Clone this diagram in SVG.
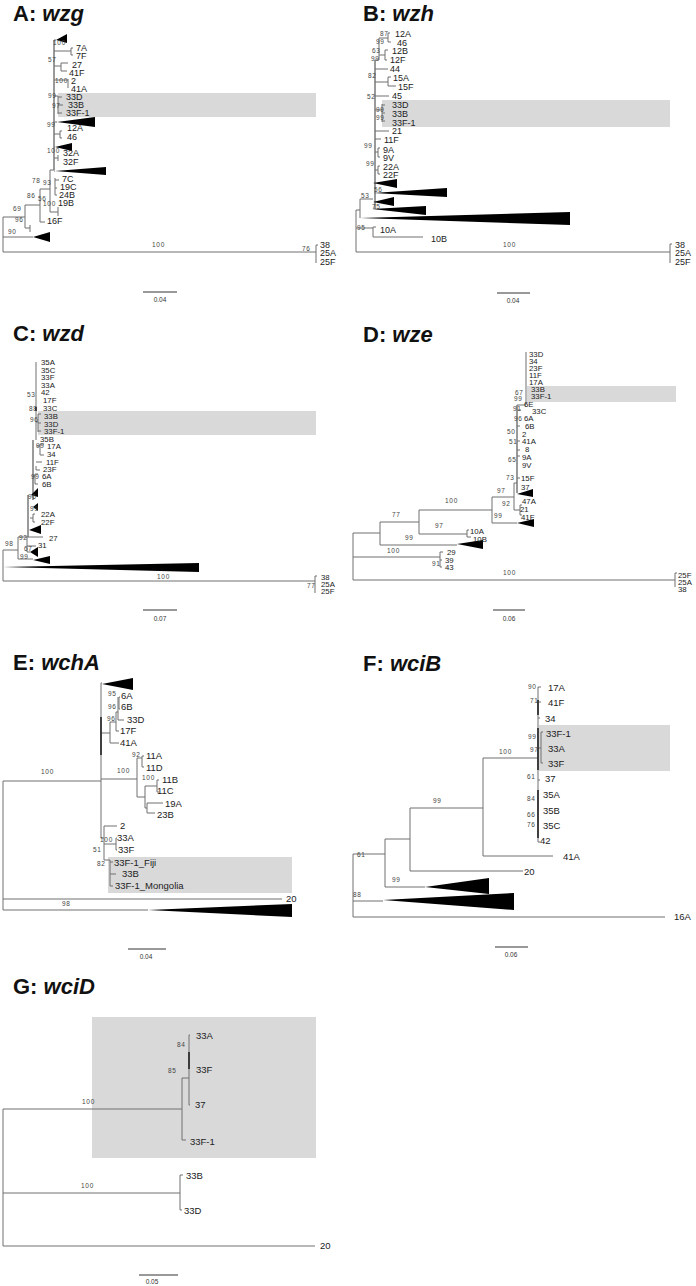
<svg xmlns="http://www.w3.org/2000/svg" width="696" height="1286" viewBox="0 0 696 1286">
<style>
.ln{stroke:#707070;stroke-width:1;fill:none}
.bb{stroke:#9a9a9a;stroke-width:2;fill:none}
.dk{stroke:#222;stroke-width:1.6;fill:none}
.tri{fill:#000}
.hl{fill:#d9d9d9}
.t{font-family:"Liberation Sans",Arial,sans-serif;font-size:9px;fill:#222}
.t4{font-family:"Liberation Sans",Arial,sans-serif;font-size:7.8px;fill:#222}
.t3{font-family:"Liberation Sans",Arial,sans-serif;font-size:9.5px;fill:#222}
.b{font-family:"Liberation Sans",Arial,sans-serif;font-size:6.5px;letter-spacing:0.7px;fill:#444}
.sc{font-family:"Liberation Sans",Arial,sans-serif;font-size:6.5px;fill:#333;text-anchor:middle}
.ti{font-family:"Liberation Sans",Arial,sans-serif;font-size:22px;font-weight:bold;fill:#111}
.ti tspan{font-style:italic}
.sb{stroke:#333;stroke-width:1;fill:none}
</style>
<rect width="696" height="1286" fill="#fff"/>

<!-- ===== Panel A ===== -->
<g id="panelA">
<text class="ti" x="13" y="21">A: <tspan>wzg</tspan></text>
<rect id="A-highlight" class="hl" x="58" y="93" width="258" height="24"/>
<g id="A-connectors">
<path class="bb" d="M54,40V170"/>
<path class="ln" d="M3,217V252M3,217H25M25,205V228M25,228H30M30,225V232M3,237H33M3,252H316M316,245V263M316,245H318M25,205H40M40,189V222M40,222H45M40,189H50M50,170V212M50,212H58M58,207V216M50,170H54M54,40H56M54,51H71M71,48V55M71,48H73M71,55H73M54,66H61M61,63V71M61,63H68M61,71H67M54,80H68M68,79V88M54,96H58M58,96V114M58,97H62M58,105H63M58,113H62M54,122H57M54,134H60M60,131V138M60,131H62M60,138H62M54,147H55M54,158H58M58,155V161M54,171H55M55,178V195M55,180H59M55,188H57M55,195H57"/>
</g>
<g id="A-clades">
<polygon class="tri" points="56,40 67,34 67,43"/>
<polygon class="tri" points="57,122 95,117 95,127"/>
<polygon class="tri" points="55,147 72,143 72,151"/>
<polygon class="tri" points="55,171 106,167 106,175"/>
<polygon class="tri" points="33,237 50,232 50,242"/>
</g>
<g id="A-tips">
<text class="t" x="76" y="51">7A</text><text class="t" x="76" y="59">7F</text>
<text class="t" x="72" y="68">27</text><text class="t" x="69" y="76">41F</text>
<text class="t" x="71" y="84">2</text><text class="t" x="71" y="92">41A</text>
<text class="t" x="66" y="100">33D</text><text class="t" x="68" y="108">33B</text><text class="t" x="66" y="116">33F-1</text>
<text class="t" x="67" y="131">12A</text><text class="t" x="67" y="140">46</text>
<text class="t" x="63" y="156">32A</text><text class="t" x="63" y="165">32F</text>
<text class="t" x="62" y="182">7C</text><text class="t" x="60" y="190">19C</text><text class="t" x="59" y="198">24B</text><text class="t" x="58" y="206">19B</text>
<text class="t" x="47" y="224">16F</text>
<text class="t" x="320" y="248">38</text><text class="t" x="320" y="256">25A</text><text class="t" x="320" y="265">25F</text>
</g>
<g id="A-bootstrap">
<text class="b" x="53" y="45">100</text><text class="b" x="48" y="62">57</text><text class="b" x="55" y="83">100</text>
<text class="b" x="48" y="98">99</text><text class="b" x="52" y="108">97</text><text class="b" x="47" y="127">99</text>
<text class="b" x="47" y="153">100</text><text class="b" x="32" y="183">78</text><text class="b" x="43" y="185">93</text>
<text class="b" x="27" y="198">86</text><text class="b" x="38" y="201">56</text><text class="b" x="43" y="206">100</text>
<text class="b" x="13" y="211">69</text><text class="b" x="15" y="222">96</text><text class="b" x="8" y="234">90</text>
<text class="b" x="152" y="247">100</text><text class="b" x="302" y="251">76</text>
</g>
<g id="A-scale"><path class="sb" d="M143,292H177"/><text class="sc" x="160" y="302">0.04</text></g>
</g>

<!-- ===== Panel B ===== -->
<g id="panelB">
<text class="ti" x="363" y="21">B: <tspan>wzh</tspan></text>
<rect id="B-highlight" class="hl" x="382" y="100" width="288" height="27"/>
<g id="B-connectors">
<path class="bb" d="M375,60V209"/>
<path class="ln" d="M356,210V252M356,210H360M360,199V218M360,199H373M356,228H373M373,227V237M373,227H376M373,237H423M356,252H670M670,244V263M670,244H672M379,38H388M388,33V42M388,33H390M388,42H391M379,38V60M375,60H379M379,55H385M385,50V60M385,50H388M385,60H387M375,69H388M375,82H388M388,77V86M388,77H391M388,86H396M375,96H389M375,110H382M382,104V122M382,105H385M382,113H385M382,121H385M375,131H389M375,139H381M375,152H378M378,148V157M378,148H380M378,157H380M375,170H378M378,166V174M378,166H380M378,174H380"/>
</g>
<g id="B-clades">
<polygon class="tri" points="373,183 397,179 397,188"/>
<polygon class="tri" points="373,193 447,188 447,197"/>
<polygon class="tri" points="373,202 394,197 394,206"/>
<polygon class="tri" points="372,209 426,206 426,215"/>
<polygon class="tri" points="360,218 570,212 570,225"/>
</g>
<g id="B-tips">
<text class="t" x="395" y="37">12A</text><text class="t" x="397" y="46">46</text>
<text class="t" x="392" y="54">12B</text><text class="t" x="390" y="63">12F</text>
<text class="t" x="390" y="72">44</text><text class="t" x="393" y="81">15A</text><text class="t" x="398" y="90">15F</text>
<text class="t" x="392" y="99">45</text>
<text class="t" x="392" y="108">33D</text><text class="t" x="392" y="117">33B</text><text class="t" x="392" y="126">33F-1</text>
<text class="t" x="392" y="134">21</text><text class="t" x="384" y="143">11F</text>
<text class="t" x="383" y="153">9A</text><text class="t" x="383" y="161">9V</text>
<text class="t" x="383" y="170">22A</text><text class="t" x="383" y="178">22F</text>
<text class="t" x="380" y="233">10A</text><text class="t" x="431" y="242">10B</text>
<text class="t" x="675" y="248">38</text><text class="t" x="675" y="256">25A</text><text class="t" x="675" y="265">25F</text>
</g>
<g id="B-bootstrap">
<text class="b" x="380" y="36">87</text><text class="b" x="376" y="44">99</text><text class="b" x="372" y="53">63</text>
<text class="b" x="371" y="61">99</text><text class="b" x="368" y="78">82</text><text class="b" x="367" y="99">52</text>
<text class="b" x="376" y="112">99</text><text class="b" x="376" y="120">99</text><text class="b" x="364" y="148">99</text>
<text class="b" x="366" y="166">99</text><text class="b" x="374" y="192">56</text><text class="b" x="361" y="198">53</text>
<text class="b" x="372" y="209">75</text><text class="b" x="357" y="230">95</text><text class="b" x="503" y="247">100</text>
</g>
<g id="B-scale"><path class="sb" d="M497,293H530"/><text class="sc" x="513" y="303">0.04</text></g>
</g>

<!-- ===== Panel C ===== -->
<g id="panelC">
<text class="ti" x="13" y="341">C: <tspan>wzd</tspan></text>
<rect id="C-highlight" class="hl" x="38" y="411" width="278" height="24"/>
<g id="C-connectors">
<path class="bb" d="M33,440V500M28,495V537"/>
<path class="ln" d="M36,362V440M3,550V581M3,550H18M18,537V559M18,537H43M18,559H33M27,537V552M27,552H30M27,546H36M3,581H315M315,576V593M315,576H317M36,422H38M38,414V432M38,414H41M38,423H41M38,431H41M36,446H40M40,444V455M40,444H44M40,455H44M36,462H42M36,466V470H40M33,476H35M35,474V484M35,474H38M35,484H38M30,518H33M33,514V522M33,514H35M33,522H35"/>
<path class="dk" d="M36,407V411"/>
</g>
<g id="C-clades">
<polygon class="tri" points="31,495 38,488 38,497"/>
<polygon class="tri" points="33,507 38,503 38,511"/>
<polygon class="tri" points="29,530 41,525 41,534"/>
<polygon class="tri" points="30,552 38,547 38,557"/>
<polygon class="tri" points="33,560 50,556 50,564"/>
<polygon class="tri" points="3,567 199,563 199,572"/>
</g>
<g id="C-tips">
<text class="t4" x="41" y="365">35A</text><text class="t4" x="41" y="373">35C</text><text class="t4" x="41" y="380">33F</text>
<text class="t4" x="41" y="388">33A</text><text class="t4" x="41" y="395">42</text><text class="t4" x="43" y="403">17F</text>
<text class="t4" x="43" y="411">33C</text><text class="t4" x="44" y="419">33B</text><text class="t4" x="44" y="427">33D</text>
<text class="t4" x="44" y="434">33F-1</text><text class="t4" x="40" y="442">35B</text><text class="t4" x="47" y="449">17A</text>
<text class="t4" x="47" y="457">34</text><text class="t4" x="46" y="465">11F</text><text class="t4" x="43" y="472">23F</text>
<text class="t4" x="42" y="479">6A</text><text class="t4" x="42" y="487">6B</text>
<text class="t4" x="41" y="517">22A</text><text class="t4" x="41" y="525">22F</text>
<text class="t4" x="49" y="541">27</text><text class="t4" x="38" y="548">31</text>
<text class="t4" x="321" y="580">38</text><text class="t4" x="321" y="587">25A</text><text class="t4" x="321" y="594">25F</text>
</g>
<g id="C-bootstrap">
<text class="b" x="27" y="397">53</text><text class="b" x="29" y="411">88</text><text class="b" x="30" y="422">96</text>
<text class="b" x="36" y="448">99</text><text class="b" x="31" y="479">99</text><text class="b" x="28" y="499">96</text>
<text class="b" x="30" y="511">99</text><text class="b" x="19" y="540">92</text><text class="b" x="5" y="546">98</text>
<text class="b" x="24" y="551">67</text><text class="b" x="20" y="559">99</text>
<text class="b" x="157" y="579">100</text><text class="b" x="307" y="588">77</text>
</g>
<g id="C-scale"><path class="sb" d="M143,610H177"/><text class="sc" x="160" y="621">0.07</text></g>
</g>

<!-- ===== Panel D ===== -->
<g id="panelD">
<text class="ti" x="363" y="342">D: <tspan>wze</tspan></text>
<rect id="D-highlight" class="hl" x="527" y="386" width="149" height="16"/>
<g id="D-connectors">
<path class="bb" d="M517,405V493"/>
<path class="ln" d="M526,352V405M517,405H526M353,533V580M353,533H380M380,522V545M380,522H419M419,510V534M419,510H492M492,497V523M419,534H467M467,530V537M467,530H469M467,537H471M380,545H457M353,557H440M440,552V567M440,552H443M440,560H442M440,567H442M353,580H675M675,573V587M675,573H677M492,497H514M514,483V510M492,523H517M514,510H520M520,505V515M520,505H522M520,515H522M514,483H517M517,410H521M517,426H520M517,441H520M517,450H520M517,456H520M517,478H520"/>
</g>
<g id="D-clades">
<polygon class="tri" points="517,494 533,489 533,497"/>
<polygon class="tri" points="517,523 534,519 534,527"/>
<polygon class="tri" points="457,544 483,540 483,549"/>
</g>
<g id="D-tips">
<text class="t4" x="529" y="357">33D</text><text class="t4" x="529" y="364">34</text><text class="t4" x="529" y="371">23F</text>
<text class="t4" x="529" y="378">11F</text><text class="t4" x="529" y="385">17A</text><text class="t4" x="531" y="392">33B</text>
<text class="t4" x="531" y="399">33F-1</text><text class="t4" x="524" y="407">6E</text><text class="t4" x="532" y="414">33C</text>
<text class="t4" x="524" y="421">6A</text><text class="t4" x="525" y="429">6B</text><text class="t4" x="522" y="437">2</text>
<text class="t4" x="522" y="444">41A</text><text class="t4" x="525" y="452">8</text><text class="t4" x="522" y="460">9A</text>
<text class="t4" x="522" y="468">9V</text><text class="t4" x="521" y="481">15F</text><text class="t4" x="521" y="490">37</text>
<text class="t4" x="522" y="504">47A</text><text class="t4" x="520" y="512">21</text><text class="t4" x="521" y="520">41F</text>
<text class="t4" x="470" y="534">10A</text><text class="t4" x="473" y="542">10B</text>
<text class="t4" x="447" y="555">29</text><text class="t4" x="445" y="563">39</text><text class="t4" x="445" y="570">43</text>
<text class="t4" x="678" y="578">25F</text><text class="t4" x="678" y="585">25A</text><text class="t4" x="678" y="592">38</text>
</g>
<g id="D-bootstrap">
<text class="b" x="515" y="395">67</text><text class="b" x="514" y="401">99</text><text class="b" x="513" y="411">91</text>
<text class="b" x="514" y="421">96</text><text class="b" x="507" y="434">50</text><text class="b" x="509" y="444">51</text>
<text class="b" x="508" y="462">65</text><text class="b" x="506" y="480">73</text><text class="b" x="497" y="493">97</text>
<text class="b" x="502" y="506">92</text><text class="b" x="494" y="518">99</text><text class="b" x="445" y="503">100</text>
<text class="b" x="392" y="517">77</text><text class="b" x="435" y="528">97</text><text class="b" x="405" y="540">99</text>
<text class="b" x="387" y="553">100</text><text class="b" x="432" y="566">91</text><text class="b" x="503" y="575">100</text>
</g>
<g id="D-scale"><path class="sb" d="M493,610H525"/><text class="sc" x="509" y="621">0.06</text></g>
</g>

<!-- ===== Panel E ===== -->
<g id="panelE">
<text class="ti" x="13" y="670">E: <tspan>wchA</tspan></text>
<rect id="E-highlight" class="hl" x="108" y="857" width="184" height="36"/>
<g id="E-connectors">
<path class="ln" d="M3,781V910M3,781H101M101,683V838M101,683H102M101,733H110M110,722V743M110,743H119M110,722H116M116,712V731M116,731H119M116,712H118M118,697V720M118,720H124M119,697V709M119,697H120M119,709H120M101,779H137M137,758V797M137,758H142M142,756V767M142,756H144M142,767H144M137,797H145M145,786V808M145,786H157M157,780V792M157,780H159M157,792H159M145,808H147M147,803V813M147,803H163M147,813H155M101,838H104M104,826V860M104,826H117M104,844H116M116,838V850M116,838H117M116,850H117M104,860H110M110,860V886M110,862H113M110,874H116M110,886H113M3,899H282M3,910H148"/>
<path class="dk" d="M101,717V755"/>
</g>
<g id="E-clades">
<polygon class="tri" points="102,684 133,678 133,690"/>
<polygon class="tri" points="148,910 292,904 292,917"/>
</g>
<g id="E-tips">
<text class="t3" x="121" y="699">6A</text><text class="t3" x="121" y="710">6B</text><text class="t3" x="127" y="723">33D</text>
<text class="t3" x="120" y="734">17F</text><text class="t3" x="120" y="746">41A</text><text class="t3" x="146" y="759">11A</text>
<text class="t3" x="146" y="771">11D</text><text class="t3" x="162" y="783">11B</text><text class="t3" x="157" y="794">11C</text>
<text class="t3" x="165" y="807">19A</text><text class="t3" x="157" y="818">23B</text><text class="t3" x="120" y="829">2</text>
<text class="t3" x="117" y="841">33A</text><text class="t3" x="118" y="853">33F</text><text class="t3" x="114" y="866">33F-1_Fiji</text>
<text class="t3" x="122" y="877">33B</text><text class="t3" x="115" y="889">33F-1_Mongolia</text>
<text class="t3" x="286" y="902">20</text>
</g>
<g id="E-bootstrap">
<text class="b" x="108" y="696">95</text><text class="b" x="108" y="709">96</text><text class="b" x="107" y="721">96</text>
<text class="b" x="132" y="757">92</text><text class="b" x="117" y="773">100</text><text class="b" x="142" y="780">100</text>
<text class="b" x="41" y="774">100</text><text class="b" x="100" y="842">100</text><text class="b" x="93" y="852">51</text>
<text class="b" x="97" y="866">82</text><text class="b" x="62" y="906">98</text>
</g>
<g id="E-scale"><path class="sb" d="M128,949H166"/><text class="sc" x="146" y="959">0.04</text></g>
</g>

<!-- ===== Panel F ===== -->
<g id="panelF">
<text class="ti" x="363" y="671">F: <tspan>wciB</tspan></text>
<rect id="F-highlight" class="hl" x="539" y="725" width="131" height="46"/>
<g id="F-connectors">
<path class="ln" d="M353,854V917M353,854H385M385,839V887M385,839H410M410,808V871M410,808H483M483,758V856M483,758H538M483,856H553M410,871H523M385,887H425M353,901H383M353,917H665M538,687V842M538,687H541M538,702H541M538,718H540M541,732V763M538,748H541M541,732H543M541,763H543M538,780H540M538,842H540"/>
<path class="dk" d="M538,700V715M538,728V770M538,790V838"/>
</g>
<g id="F-clades">
<polygon class="tri" points="425,887 489,878 489,894"/>
<polygon class="tri" points="383,900 514,893 514,910"/>
</g>
<g id="F-tips">
<text class="t3" x="548" y="691">17A</text><text class="t3" x="548" y="706">41F</text><text class="t3" x="545" y="722">34</text>
<text class="t3" x="546" y="737">33F-1</text><text class="t3" x="548" y="752">33A</text><text class="t3" x="548" y="767">33F</text>
<text class="t3" x="545" y="782">37</text><text class="t3" x="543" y="798">35A</text><text class="t3" x="543" y="814">35B</text>
<text class="t3" x="543" y="829">35C</text><text class="t3" x="540" y="844">42</text><text class="t3" x="563" y="860">41A</text>
<text class="t3" x="524" y="875">20</text><text class="t3" x="674" y="920">16A</text>
</g>
<g id="F-bootstrap">
<text class="b" x="528" y="689">90</text><text class="b" x="530" y="703">71</text><text class="b" x="528" y="739">99</text>
<text class="b" x="530" y="752">97</text><text class="b" x="527" y="779">61</text><text class="b" x="527" y="801">84</text>
<text class="b" x="527" y="817">66</text><text class="b" x="527" y="827">76</text><text class="b" x="499" y="754">100</text>
<text class="b" x="433" y="803">99</text><text class="b" x="357" y="857">61</text><text class="b" x="392" y="882">99</text>
<text class="b" x="353" y="897">88</text>
</g>
<g id="F-scale"><path class="sb" d="M495,947H528"/><text class="sc" x="511" y="957">0.06</text></g>
</g>

<!-- ===== Panel G ===== -->
<g id="panelG">
<text class="ti" x="13" y="994">G: <tspan>wciD</tspan></text>
<rect id="G-highlight" class="hl" x="92" y="1017" width="224" height="141"/>
<g id="G-connectors">
<path class="ln" d="M3,1109V1246M3,1109H182M182,1078V1140M182,1140H186M182,1078H189M189,1035V1105M189,1035H190M189,1105H190M3,1193H180M180,1175V1210M180,1175H183M180,1210H182M3,1246H315"/>
<path class="dk" d="M189,1052V1069"/>
</g>
<g id="G-tips">
<text class="t3" x="196" y="1039">33A</text><text class="t3" x="196" y="1073">33F</text><text class="t3" x="195" y="1108">37</text>
<text class="t3" x="190" y="1145">33F-1</text><text class="t3" x="186" y="1179">33B</text><text class="t3" x="184" y="1214">33D</text>
<text class="t3" x="320" y="1249">20</text>
</g>
<g id="G-bootstrap">
<text class="b" x="177" y="1047">84</text><text class="b" x="168" y="1073">85</text>
<text class="b" x="82" y="1104">100</text><text class="b" x="81" y="1188">100</text>
</g>
<g id="G-scale"><path class="sb" d="M139,1275H178"/><text class="sc" x="152" y="1284">0.05</text></g>
</g>
</svg>
